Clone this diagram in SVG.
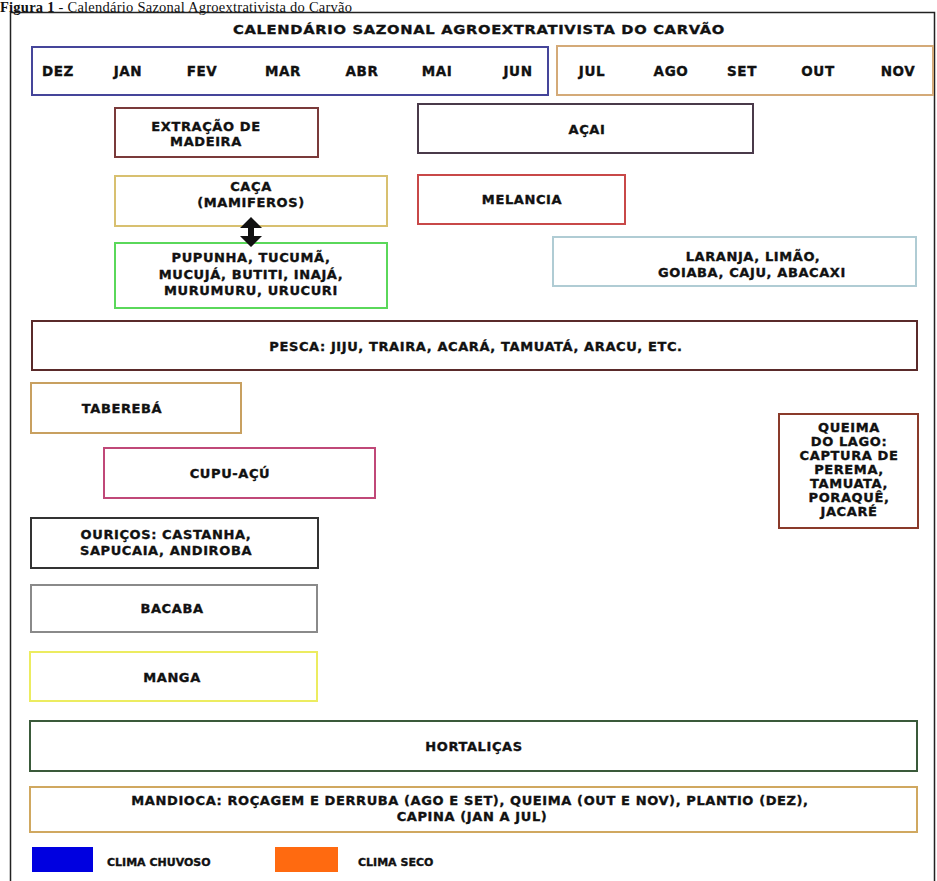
<svg xmlns="http://www.w3.org/2000/svg" width="937" height="881" viewBox="0 0 937 881">
<style>
.t{font-family:"DejaVu Sans","Liberation Sans",sans-serif;font-weight:bold;font-size:13px;letter-spacing:0.6px;fill:#111;stroke:#111;stroke-width:0.35;text-anchor:middle}
.m{font-size:13.5px}
.b{fill:#fff;stroke-width:2}
.l{font-size:11px;letter-spacing:0;text-anchor:start}
</style>
<rect width="937" height="881" fill="#fff"/>
<text x="0" y="11.5" font-family="Liberation Serif, serif" font-size="14.5" fill="#111" textLength="352"><tspan font-weight="bold">Figura 1</tspan> - Calendário Sazonal Agroextrativista do Carvão</text>
<rect x="10.5" y="12.5" width="924" height="880" fill="none" stroke="#222" stroke-width="1.5"/>
<g id="titulo"><text class="t" x="479" y="34" textLength="492" lengthAdjust="spacingAndGlyphs">CALENDÁRIO SAZONAL AGROEXTRATIVISTA DO CARVÃO</text></g>
<g id="chuvoso">
<rect class="b" x="32" y="47" width="516" height="48" stroke="#45459a"/>
<text class="t m" x="58" y="76">DEZ</text><text class="t m" x="128" y="76">JAN</text><text class="t m" x="202" y="76">FEV</text><text class="t m" x="283" y="76">MAR</text><text class="t m" x="362" y="76">ABR</text><text class="t m" x="437" y="76">MAI</text><text class="t m" x="518" y="76">JUN</text>
</g>
<g id="seco">
<rect class="b" x="557" y="46" width="376" height="49" stroke="#d4aa78"/>
<text class="t m" x="592" y="76">JUL</text><text class="t m" x="671" y="76">AGO</text><text class="t m" x="742" y="76">SET</text><text class="t m" x="818" y="76">OUT</text><text class="t m" x="898" y="76">NOV</text>
</g>
<g id="madeira"><rect class="b" x="115" y="108" width="203" height="49" stroke="#7a3a3a"/><text class="t" x="206" y="131">EXTRAÇÃO DE</text><text class="t" x="206" y="146">MADEIRA</text></g>
<g id="caca"><rect class="b" x="115" y="176" width="272" height="50" stroke="#d8c070"/><text class="t" x="251" y="191">CAÇA</text><text class="t" x="251" y="207">(MAMIFEROS)</text></g>
<g id="palmeiras"><rect class="b" x="115" y="243" width="272" height="65" stroke="#5ad85a"/><text class="t" x="251" y="262">PUPUNHA, TUCUMÃ,</text><text class="t" x="251" y="279">MUCUJÁ, BUTITI, INAJÁ,</text><text class="t" x="251" y="295">MURUMURU, URUCURI</text></g>
<g id="acai"><rect class="b" x="418" y="104" width="335" height="49" stroke="#4a3a4a"/><text class="t" x="587" y="134">AÇAI</text></g>
<g id="melancia"><rect class="b" x="418" y="175" width="207" height="49" stroke="#c84848"/><text class="t" x="522" y="204">MELANCIA</text></g>
<g id="citricos"><rect class="b" x="553" y="237" width="363" height="49" stroke="#b0ccd4"/><text class="t" x="753" y="261">LARANJA, LIMÃO,</text><text class="t" x="752" y="277">GOIABA, CAJU, ABACAXI</text></g>
<g id="pesca"><rect class="b" x="32" y="321" width="885" height="49" stroke="#5a2a2a"/><text class="t" x="476" y="351">PESCA: JIJU, TRAIRA, ACARÁ, TAMUATÁ, ARACU, ETC.</text></g>
<g id="tabereba"><rect class="b" x="31" y="383" width="210" height="50" stroke="#c8a060"/><text class="t" x="122" y="413">TABEREBÁ</text></g>
<g id="cupuacu"><rect class="b" x="104" y="448" width="271" height="50" stroke="#c04878"/><text class="t" x="230" y="478">CUPU-AÇÚ</text></g>
<g id="queima"><rect class="b" x="779" y="414" width="139" height="114" stroke="#8a3a2a"/>
<text class="t" x="849" y="432">QUEIMA</text><text class="t" x="849" y="446">DO LAGO:</text><text class="t" x="849" y="460">CAPTURA DE</text><text class="t" x="849" y="474">PEREMA,</text><text class="t" x="849" y="488">TAMUATA,</text><text class="t" x="849" y="502">PORAQUÊ,</text><text class="t" x="849" y="516">JACARÉ</text></g>
<g id="ouricos"><rect class="b" x="31" y="518" width="287" height="50" stroke="#333"/><text class="t" x="166" y="539">OURIÇOS: CASTANHA,</text><text class="t" x="166" y="555">SAPUCAIA, ANDIROBA</text></g>
<g id="bacaba"><rect class="b" x="31" y="585" width="286" height="47" stroke="#8a8a8a"/><text class="t" x="172" y="613">BACABA</text></g>
<g id="manga"><rect class="b" x="30" y="652" width="287" height="49" stroke="#ecec60"/><text class="t" x="172" y="682">MANGA</text></g>
<g id="hortalicas"><rect class="b" x="30" y="721" width="887" height="50" stroke="#3a5a3a"/><text class="t" x="474" y="751">HORTALIÇAS</text></g>
<g id="mandioca"><rect class="b" x="30" y="787" width="887" height="45" stroke="#d0a860"/><text class="t" x="470" y="805">MANDIOCA: ROÇAGEM E DERRUBA (AGO E SET), QUEIMA (OUT E NOV), PLANTIO (DEZ),</text><text class="t" x="472" y="821">CAPINA (JAN A JUL)</text></g>
<g id="connectors"><polygon points="251,217 262,228 254,228 254,236 262,236 251,247 240,236 248,236 248,228 240,228" fill="#111"/></g>
<g id="legenda">
<rect x="32" y="847" width="61" height="25" fill="#0000e0"/><text class="t l" x="107" y="866">CLIMA CHUVOSO</text>
<rect x="275" y="847" width="63" height="25" fill="#ff6a10"/><text class="t l" x="358" y="866">CLIMA SECO</text>
</g>
</svg>
